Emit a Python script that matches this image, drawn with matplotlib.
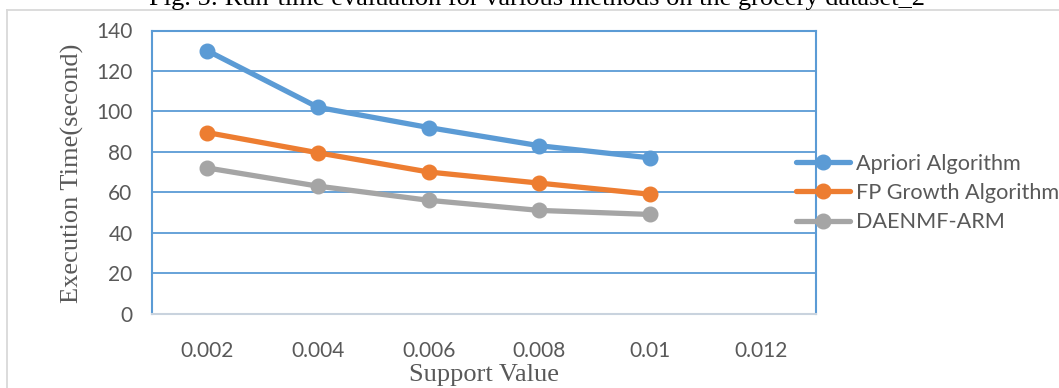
import matplotlib
matplotlib.use("Agg")
import matplotlib.pyplot as plt
from matplotlib.lines import Line2D

# Run-time data (seconds) per support value
support_labels = ["0.002", "0.004", "0.006", "0.008", "0.01", "0.012"]
apriori = [130, 102, 92, 83, 77]
fp_growth = [89.5, 79.5, 70, 64.5, 59]
daenmf_arm = [72, 63, 56, 51, 49]
series_names = ["Apriori Algorithm", "FP Growth Algorithm", "DAENMF-ARM"]
series_colors = ["#5B9BD5", "#ED7D31", "#A5A5A5"]
y_ticks = [0, 20, 40, 60, 80, 100, 120, 140]

W, H = 1059, 388
fig = plt.figure(figsize=(W / 100, H / 100), dpi=100)
fig.patch.set_facecolor("white")

# outer chart frame (top and left edges)
frame_c = "#D9D9D9"
fig.add_artist(Line2D([7 / W, 1.0], [1 - 9.5 / H, 1 - 9.5 / H], color=frame_c, lw=1.3,
                      transform=fig.transFigure))
fig.add_artist(Line2D([7 / W, 7 / W], [0, 1 - 9.5 / H], color=frame_c, lw=1.3,
                      transform=fig.transFigure))

left, right, top, bottom = 152, 816, 30.5, 313.5
ax = fig.add_axes([left / W, 1 - bottom / H, (right - left) / W, (bottom - top) / H])

grid_c = "#5B9BD5"
x = list(range(len(apriori)))
for vals, name, col in zip([apriori, fp_growth, daenmf_arm], series_names, series_colors):
    ax.plot(x, vals, color=col, lw=3.8, marker="o", markersize=10.5,
            solid_capstyle="round", label=name, zorder=3)

ax.set_xlim(-0.5, len(support_labels) - 0.5)
ax.set_ylim(0, 140)
ax.set_yticks(y_ticks)
ax.set_xticks(range(len(support_labels)))
ax.set_xticklabels(support_labels)
ax.yaxis.grid(True, color=grid_c, lw=1.3, zorder=1)
ax.set_axisbelow(True)
ax.tick_params(length=0, colors="#595959", labelsize=15)
ax.tick_params(axis="x", pad=20)
ax.tick_params(axis="y", pad=14)
for lab in ax.get_xticklabels() + ax.get_yticklabels():
    lab.set_family("Lato")

for s in ["left", "top", "right"]:
    ax.spines[s].set_color(grid_c)
    ax.spines[s].set_linewidth(1.5)
ax.spines["bottom"].set_color("#C9D3DE")
ax.spines["bottom"].set_linewidth(1.5)

serif = "Liberation Serif"
ax.set_xlabel("Support Value", family=serif, fontsize=19, color="#595959", labelpad=2)
fig.text(72 / W, 1 - 173 / H, "Execution Time(second)", family=serif, fontsize=19,
         color="#595959", rotation=90, ha="center", va="center")

fig.text(537 / W, 1 - 5 / H,
         "Fig. 5: Run-time evaluation for various methods on the grocery dataset_2",
         family=serif, fontsize=19, color="black", ha="center", va="baseline")

leg = fig.legend(loc="center left", bbox_to_anchor=(796 / W, 1 - 193 / H),
                 frameon=False, prop={"family": "Lato", "size": 15.6},
                 handlelength=2.5, handletextpad=0.25, labelspacing=0.43,
                 borderpad=0, borderaxespad=0)
for t in leg.get_texts():
    t.set_color("#595959")

fig.savefig("out.png", dpi=100)
